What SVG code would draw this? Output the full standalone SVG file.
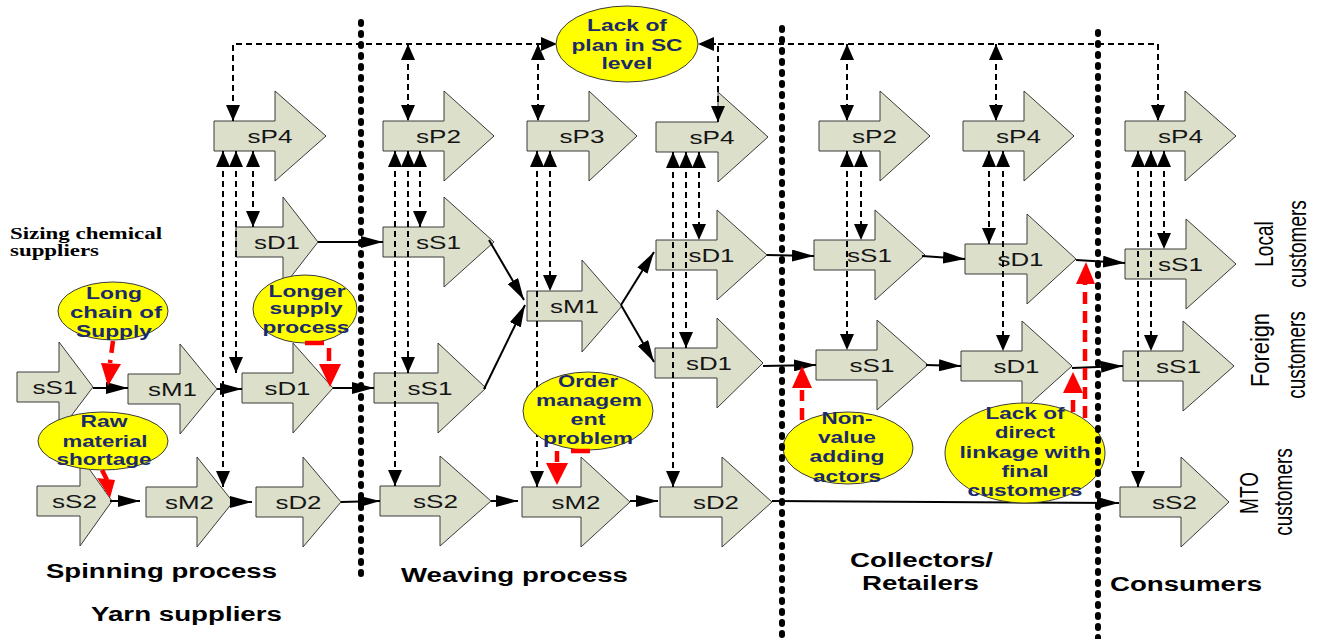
<svg xmlns="http://www.w3.org/2000/svg" width="1318" height="639" viewBox="0 0 1318 639">
  <style>
    .node path { fill: #dcdfca; stroke: #3a3a3a; stroke-width: 1; }
    .node text { font-family: "Liberation Sans", Arial, sans-serif; font-size: 19px; fill: #151515; text-anchor: middle; }
    .dash { fill: none; stroke: #000; stroke-width: 2; stroke-dasharray: 6 4; marker-start: url(#dh); marker-end: url(#dh); }
    .solid { fill: none; stroke: #000; stroke-width: 2; marker-end: url(#sh); }
    .sep { stroke: #000; stroke-width: 6; stroke-linecap: round; stroke-dasharray: 2 9; }
    .issue ellipse { fill: #ffff00; stroke: #3a3a3a; stroke-width: 1; }
    .issue text { font-family: "Liberation Sans", Arial, sans-serif; font-size: 16.5px; font-weight: bold; fill: #1b2a6b; text-anchor: middle; }
    .red { fill: none; stroke: #ff0000; stroke-width: 4.5; stroke-dasharray: 12 7; }
    .redhead { fill: #ff0000; }
    .stage { font-family: "Liberation Sans", Arial, sans-serif; font-size: 20px; font-weight: bold; fill: #000; }
    .side { font-family: "Liberation Sans", Arial, sans-serif; font-size: 19px; fill: #000; text-anchor: middle; }
    .serif { font-family: "Liberation Serif", "Times New Roman", serif; font-size: 16.5px; font-weight: bold; fill: #000; }
  </style>
  <defs>
    <marker id="dh" viewBox="0 0 16 14" refX="16" refY="7" markerWidth="16" markerHeight="14" markerUnits="userSpaceOnUse" orient="auto-start-reverse">
      <path d="M0,0 L16,7 L0,14 Z" fill="#000"/>
    </marker>
    <marker id="sh" viewBox="0 0 22 12" refX="22" refY="6" markerWidth="22" markerHeight="12" markerUnits="userSpaceOnUse" orient="auto">
      <path d="M0,0 L22,6 L0,12 Z" fill="#000"/>
    </marker>
  </defs>

  <!-- process nodes: block arrows -->
  <g id="spin-sP4" class="node"><path d="M214,121 H275 V91 L326,136 L275,181 V151 H214 Z"/><text x="270" y="143" textLength="45" lengthAdjust="spacingAndGlyphs">sP4</text></g>
  <g id="spin-sD1-top" class="node"><path d="M236,227 H283 V197 L318,242 L283,287 V257 H236 Z"/><text x="277" y="249" textLength="46" lengthAdjust="spacingAndGlyphs">sD1</text></g>
  <g id="spin-sS1" class="node"><path d="M17,372 H59 V342 L93,387 L59,432 V402 H17 Z"/><text x="55" y="394" textLength="45" lengthAdjust="spacingAndGlyphs">sS1</text></g>
  <g id="spin-sM1" class="node"><path d="M128,374 H180 V344 L217,389 L180,434 V404 H128 Z"/><text x="172.5" y="396" textLength="49" lengthAdjust="spacingAndGlyphs">sM1</text></g>
  <g id="spin-sD1" class="node"><path d="M242,373 H293 V343 L333,388 L293,433 V403 H242 Z"/><text x="287.5" y="395" textLength="46" lengthAdjust="spacingAndGlyphs">sD1</text></g>
  <g id="spin-sS2" class="node"><path d="M37,486 H80 V456 L112,501 L80,546 V516 H37 Z"/><text x="74.5" y="508" textLength="45" lengthAdjust="spacingAndGlyphs">sS2</text></g>
  <g id="spin-sM2" class="node"><path d="M146,487 H197 V457 L233,502 L197,547 V517 H146 Z"/><text x="189.5" y="509" textLength="49" lengthAdjust="spacingAndGlyphs">sM2</text></g>
  <g id="spin-sD2" class="node"><path d="M256,487 H303 V457 L341,502 L303,547 V517 H256 Z"/><text x="298.5" y="509" textLength="46" lengthAdjust="spacingAndGlyphs">sD2</text></g>

  <g id="weave-sP2" class="node"><path d="M383,121 H444 V91 L494,136 L444,181 V151 H383 Z"/><text x="438.5" y="143" textLength="45" lengthAdjust="spacingAndGlyphs">sP2</text></g>
  <g id="weave-sS1-top" class="node"><path d="M383,227 H444 V197 L494,242 L444,287 V257 H383 Z"/><text x="438.5" y="249" textLength="45" lengthAdjust="spacingAndGlyphs">sS1</text></g>
  <g id="weave-sS1-low" class="node"><path d="M374,373 H438 V343 L486,388 L438,433 V403 H374 Z"/><text x="430" y="395" textLength="45" lengthAdjust="spacingAndGlyphs">sS1</text></g>
  <g id="weave-sS2" class="node"><path d="M380,486 H440 V456 L491,501 L440,546 V516 H380 Z"/><text x="435.5" y="508" textLength="45" lengthAdjust="spacingAndGlyphs">sS2</text></g>
  <g id="weave-sP3" class="node"><path d="M527,121 H589 V91 L637,136 L589,181 V151 H527 Z"/><text x="582" y="143" textLength="45" lengthAdjust="spacingAndGlyphs">sP3</text></g>
  <g id="weave-sM1" class="node"><path d="M527,291 H582 V260 L622,306 L582,352 V321 H527 Z"/><text x="574.5" y="313" textLength="49" lengthAdjust="spacingAndGlyphs">sM1</text></g>
  <g id="weave-sM2" class="node"><path d="M522,487 H581 V457 L630,502 L581,547 V517 H522 Z"/><text x="576" y="509" textLength="49" lengthAdjust="spacingAndGlyphs">sM2</text></g>
  <g id="weave-sP4" class="node"><path d="M656,122 H718 V92 L768,137 L718,182 V152 H656 Z"/><text x="712" y="144" textLength="45" lengthAdjust="spacingAndGlyphs">sP4</text></g>
  <g id="weave-sD1-top" class="node"><path d="M656,240 H717 V210 L767,255 L717,300 V270 H656 Z"/><text x="711.5" y="262" textLength="46" lengthAdjust="spacingAndGlyphs">sD1</text></g>
  <g id="weave-sD1-low" class="node"><path d="M655,348 H717 V318 L763,363 L717,408 V378 H655 Z"/><text x="709" y="370" textLength="46" lengthAdjust="spacingAndGlyphs">sD1</text></g>
  <g id="weave-sD2" class="node"><path d="M660,487 H722 V457 L772,502 L722,547 V517 H660 Z"/><text x="716" y="509" textLength="46" lengthAdjust="spacingAndGlyphs">sD2</text></g>

  <g id="coll-sP2" class="node"><path d="M819,121 H880 V91 L930,136 L880,181 V151 H819 Z"/><text x="874.5" y="143" textLength="45" lengthAdjust="spacingAndGlyphs">sP2</text></g>
  <g id="coll-sS1-top" class="node"><path d="M814,240 H875 V210 L925,255 L875,300 V270 H814 Z"/><text x="869.5" y="262" textLength="45" lengthAdjust="spacingAndGlyphs">sS1</text></g>
  <g id="coll-sS1-low" class="node"><path d="M816,350 H877 V320 L928,365 L877,410 V380 H816 Z"/><text x="872" y="372" textLength="45" lengthAdjust="spacingAndGlyphs">sS1</text></g>
  <g id="ret-sP4" class="node"><path d="M963,121 H1024 V91 L1074,136 L1024,181 V151 H963 Z"/><text x="1018.5" y="143" textLength="45" lengthAdjust="spacingAndGlyphs">sP4</text></g>
  <g id="ret-sD1-top" class="node"><path d="M965,244 H1027 V214 L1076,259 L1027,304 V274 H965 Z"/><text x="1020.5" y="266" textLength="46" lengthAdjust="spacingAndGlyphs">sD1</text></g>
  <g id="ret-sD1-low" class="node"><path d="M961,351 H1022 V321 L1072,366 L1022,411 V381 H961 Z"/><text x="1016.5" y="373" textLength="46" lengthAdjust="spacingAndGlyphs">sD1</text></g>

  <g id="cons-sP4" class="node"><path d="M1125,121 H1185 V91 L1236,136 L1185,181 V151 H1125 Z"/><text x="1180.5" y="143" textLength="45" lengthAdjust="spacingAndGlyphs">sP4</text></g>
  <g id="cons-sS1-local" class="node"><path d="M1125,249 H1186 V219 L1236,264 L1186,309 V279 H1125 Z"/><text x="1180.5" y="271" textLength="45" lengthAdjust="spacingAndGlyphs">sS1</text></g>
  <g id="cons-sS1-foreign" class="node"><path d="M1123,351 H1183 V321 L1234,366 L1183,411 V381 H1123 Z"/><text x="1178.5" y="373" textLength="45" lengthAdjust="spacingAndGlyphs">sS1</text></g>
  <g id="cons-sS2-mto" class="node"><path d="M1120,487 H1181 V457 L1229,502 L1181,547 V517 H1120 Z"/><text x="1174.5" y="509" textLength="45" lengthAdjust="spacingAndGlyphs">sS2</text></g>

  <!-- connectors -->
  <g id="connectors">
    <!-- planning bus to the SC-level plan -->
    <path class="dash" style="marker-start:url(#dh);marker-end:url(#dh)" d="M233,121 V44 H557"/>
    <path class="dash" d="M718,122 V44 H698"/>
    <path class="dash" style="marker-start:none" d="M718,44 H1158 V121"/>
    <path class="dash" d="M408,44 V121"/>
    <path class="dash" d="M538,44 V121"/>
    <path class="dash" d="M847,44 V121"/>
    <path class="dash" d="M996,44 V121"/>
    <!-- plan to source/make/deliver links -->
    <path class="dash" d="M253,151 V227"/>
    <path class="dash" d="M236,151 V373"/>
    <path class="dash" d="M223,151 V487"/>
    <path class="dash" d="M420,151 V227"/>
    <path class="dash" d="M408,151 V373"/>
    <path class="dash" d="M395,151 V486"/>
    <path class="dash" d="M550,151 V291"/>
    <path class="dash" d="M537,151 V487"/>
    <path class="dash" d="M699,152 V240"/>
    <path class="dash" d="M686,152 V348"/>
    <path class="dash" d="M673,152 V487"/>
    <path class="dash" d="M861,151 V240"/>
    <path class="dash" d="M847,151 V350"/>
    <path class="dash" d="M989,151 V244"/>
    <path class="dash" d="M1003,151 V351"/>
    <path class="dash" d="M1164,151 V249"/>
    <path class="dash" d="M1151,151 V351"/>
    <path class="dash" d="M1138,151 V487"/>
    <!-- material flow -->
    <path class="solid" d="M93,388 H128"/>
    <path class="solid" d="M217,389 H242"/>
    <path class="solid" d="M333,388 H374"/>
    <path class="solid" d="M318,242 H383"/>
    <path class="solid" d="M110,501 H140"/>
    <path class="solid" d="M233,502 H252"/>
    <path class="solid" d="M341,502 L380,501"/>
    <path class="solid" d="M491,501 H518"/>
    <path class="solid" d="M630,501 H658"/>
    <path class="solid" d="M772,501 L1119,503"/>
    <path class="solid" d="M489,240 L524,300"/>
    <path class="solid" d="M484,389 L525,305"/>
    <path class="solid" d="M621,305 L654,252"/>
    <path class="solid" d="M621,305 L654,362"/>
    <path class="solid" d="M767,255 L814,256"/>
    <path class="solid" d="M763,366 L816,365"/>
    <path class="solid" d="M922,256 L965,259"/>
    <path class="solid" d="M926,365 L961,366"/>
    <path class="solid" d="M1076,260 L1125,263"/>
    <path class="solid" d="M1072,368 L1123,366"/>
  </g>

  <!-- problem callouts -->
  <g id="issue-plan" class="issue">
    <ellipse cx="627" cy="44" rx="71" ry="38"/>
    <text x="627" y="31" textLength="80" lengthAdjust="spacingAndGlyphs">Lack of</text>
    <text x="627" y="51" textLength="111" lengthAdjust="spacingAndGlyphs">plan in SC</text>
    <text x="627" y="69" textLength="51" lengthAdjust="spacingAndGlyphs">level</text>
  </g>
  <g id="issue-chain" class="issue">
    <ellipse cx="113" cy="311" rx="55" ry="29"/>
    <text x="114" y="299" textLength="56" lengthAdjust="spacingAndGlyphs">Long</text>
    <text x="116" y="318" textLength="92" lengthAdjust="spacingAndGlyphs">chain of</text>
    <text x="114" y="337" textLength="76" lengthAdjust="spacingAndGlyphs">Supply</text>
  </g>
  <g id="issue-supply" class="issue">
    <ellipse cx="305" cy="309" rx="52" ry="34"/>
    <text x="307" y="297" textLength="77" lengthAdjust="spacingAndGlyphs">Longer</text>
    <text x="306" y="314" textLength="73" lengthAdjust="spacingAndGlyphs">supply</text>
    <text x="306" y="333" textLength="87" lengthAdjust="spacingAndGlyphs">process</text>
  </g>
  <g id="issue-raw" class="issue">
    <ellipse cx="103" cy="441" rx="65" ry="29"/>
    <text x="104" y="427" textLength="47" lengthAdjust="spacingAndGlyphs">Raw</text>
    <text x="105" y="447" textLength="85" lengthAdjust="spacingAndGlyphs">material</text>
    <text x="104" y="465" textLength="95" lengthAdjust="spacingAndGlyphs">shortage</text>
  </g>
  <g id="issue-order" class="issue">
    <ellipse cx="588" cy="411" rx="65" ry="39"/>
    <text x="588" y="387" textLength="60" lengthAdjust="spacingAndGlyphs">Order</text>
    <text x="589" y="406" textLength="106" lengthAdjust="spacingAndGlyphs">managem</text>
    <text x="588" y="425" textLength="35" lengthAdjust="spacingAndGlyphs">ent</text>
    <text x="588" y="444" textLength="90" lengthAdjust="spacingAndGlyphs">problem</text>
  </g>
  <g id="issue-actors" class="issue">
    <ellipse cx="848" cy="448" rx="65" ry="36"/>
    <text x="847" y="424" textLength="51" lengthAdjust="spacingAndGlyphs">Non-</text>
    <text x="847" y="443" textLength="58" lengthAdjust="spacingAndGlyphs">value</text>
    <text x="847" y="462" textLength="75" lengthAdjust="spacingAndGlyphs">adding</text>
    <text x="847" y="482" textLength="68" lengthAdjust="spacingAndGlyphs">actors</text>
  </g>
  <g id="issue-linkage" class="issue">
    <ellipse cx="1025" cy="453" rx="80" ry="50"/>
    <text x="1025" y="419" textLength="79" lengthAdjust="spacingAndGlyphs">Lack of</text>
    <text x="1025" y="438" textLength="60" lengthAdjust="spacingAndGlyphs">direct</text>
    <text x="1025" y="458" textLength="131" lengthAdjust="spacingAndGlyphs">linkage with</text>
    <text x="1025" y="477" textLength="47" lengthAdjust="spacingAndGlyphs">final</text>
    <text x="1025" y="496" textLength="115" lengthAdjust="spacingAndGlyphs">customers</text>
  </g>

  <!-- red pointers from callouts -->
  <g id="issue-pointers">
    <path class="red" d="M113,341 L110,363"/>
    <polygon class="redhead" points="101,363 121,364 108,386"/>
    <path class="red" style="stroke-dasharray:none" d="M305,343 H324"/>
    <path class="red" style="stroke-dasharray:none" d="M329,348 V361"/>
    <polygon class="redhead" points="319,364 341,364 330,387"/>
    <path class="red" style="stroke-dasharray:none" d="M102,470 L107,480"/>
    <polygon class="redhead" points="97,478 115,480 110,498"/>
    <path class="red" style="stroke-dasharray:none" d="M571,451 H590"/>
    <path class="red" style="stroke-dasharray:none" d="M557,451 V462"/>
    <polygon class="redhead" points="546,463 568,463 557,485"/>
    <path class="red" d="M802,420 V390"/>
    <polygon class="redhead" points="792,388 812,388 802,366"/>
    <path class="red" d="M1085,418 V284"/>
    <polygon class="redhead" points="1076,284 1095,284 1086,262"/>
    <path class="red" d="M1073,412 V394"/>
    <polygon class="redhead" points="1063,393 1083,393 1073,372"/>
  </g>

  <!-- stage boundaries -->
  <g id="boundaries">
    <line class="sep" x1="361" y1="22" x2="361" y2="583"/>
    <line class="sep" x1="782" y1="28" x2="782" y2="639"/>
    <line class="sep" x1="1098" y1="32" x2="1098" y2="639"/>
  </g>

  <!-- labels -->
  <g id="labels">
    <text class="serif" x="10" y="239" textLength="152" lengthAdjust="spacingAndGlyphs">Sizing chemical</text>
    <text class="serif" x="10" y="256" textLength="89" lengthAdjust="spacingAndGlyphs">suppliers</text>
    <text class="stage" x="46" y="578" textLength="231" lengthAdjust="spacingAndGlyphs">Spinning process</text>
    <text class="stage" x="401" y="582" textLength="227" lengthAdjust="spacingAndGlyphs">Weaving process</text>
    <text class="stage" x="91" y="621" textLength="191" lengthAdjust="spacingAndGlyphs">Yarn suppliers</text>
    <text class="stage" x="850" y="567" textLength="143" lengthAdjust="spacingAndGlyphs">Collectors/</text>
    <text class="stage" x="862" y="590" textLength="117" lengthAdjust="spacingAndGlyphs">Retailers</text>
    <text class="stage" x="1110" y="591" textLength="152" lengthAdjust="spacingAndGlyphs">Consumers</text>
    <text class="side" transform="translate(1273,244) scale(1.38,1) rotate(-90)">Local</text>
    <text class="side" transform="translate(1306,244) scale(1.38,1) rotate(-90)">customers</text>
    <text class="side" transform="translate(1269,350) scale(1.38,1) rotate(-90)" textLength="74" lengthAdjust="spacingAndGlyphs">Foreign</text>
    <text class="side" transform="translate(1305,355) scale(1.38,1) rotate(-90)">customers</text>
    <text class="side" transform="translate(1258,493) scale(1.38,1) rotate(-90)">MTO</text>
    <text class="side" transform="translate(1292,492) scale(1.38,1) rotate(-90)">customers</text>
  </g>
</svg>
